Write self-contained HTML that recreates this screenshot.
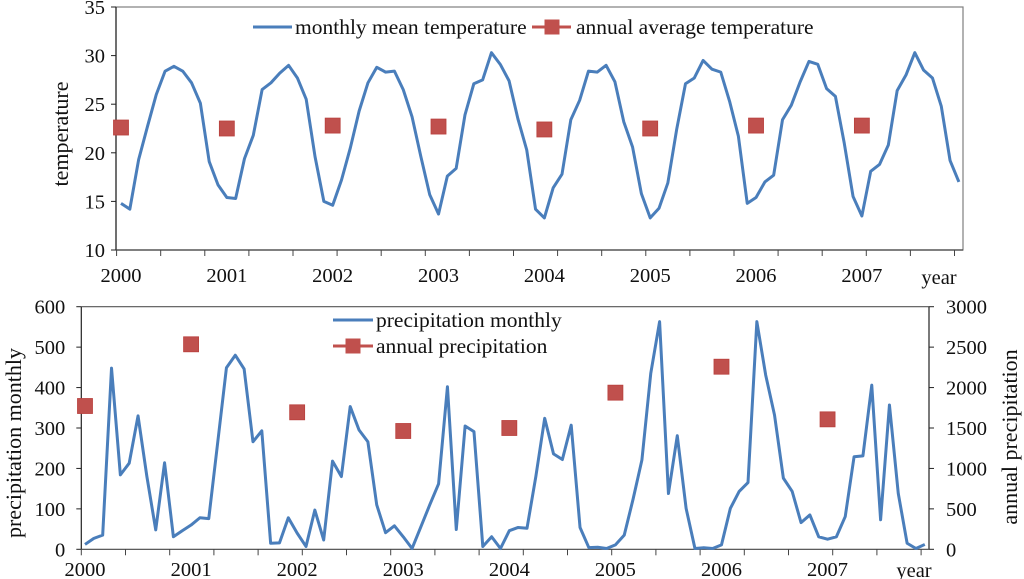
<!DOCTYPE html>
<html><head><meta charset="utf-8"><style>
html,body{margin:0;padding:0;background:#fff;}
svg{display:block;font-family:"Liberation Serif",serif;}
</style></head><body>
<svg id="c" width="1024" height="579" viewBox="0 0 1024 579"></svg>
<script>
const years=["2000","2001","2002","2003","2004","2005","2006","2007"];
const tempTicks=[10,15,20,25,30,35];
const tempMonthly=[14.8,14.2,19.3,22.7,26.0,28.4,28.9,28.4,27.2,25.1,19.1,16.7,
15.4,15.3,19.4,21.8,26.5,27.2,28.2,29.0,27.7,25.5,19.6,15.0,
14.6,17.2,20.5,24.3,27.2,28.8,28.3,28.4,26.5,23.7,19.6,15.7,
13.7,17.6,18.4,23.9,27.1,27.5,30.3,29.1,27.4,23.5,20.3,14.2,
13.3,16.4,17.8,23.4,25.4,28.4,28.3,29.0,27.3,23.2,20.6,15.8,
13.3,14.3,16.9,22.4,27.1,27.7,29.5,28.6,28.3,25.3,21.7,14.8,
15.4,17.0,17.7,23.4,24.9,27.3,29.4,29.1,26.6,25.8,21.0,15.5,
13.5,18.1,18.8,20.8,26.4,28.0,30.3,28.5,27.7,24.8,19.2,17.0];
const tempAnnual=[22.6,22.5,22.8,22.7,22.4,22.5,22.8,22.8];
const precTicksL=[0,100,200,300,400,500,600];
const precTicksR=[0,500,1000,1500,2000,2500,3000];
const precMonthly=[12,27,35,448,184,213,330,180,48,214,31,46,
60,78,76,262,449,480,446,266,293,15,16,78,
40,7,97,23,218,180,353,295,266,110,41,58,
31,2,56,110,162,402,49,305,291,7,31,2,
46,54,52,180,324,236,222,307,54,4,5,2,
11,35,124,221,435,563,138,281,101,2,4,2,
11,101,143,165,563,431,332,176,143,66,85,31,
25,31,81,229,231,406,73,357,138,15,2,12];
const precAnnual=[1772,2535,1694,1463,1500,1937,2258,1607];

const FT=20.5, FL=21.5, FA=22;
const NS="http://www.w3.org/2000/svg";
const svg=document.getElementById('c');
function mk(tag,attrs,parent,txt){const e=document.createElementNS(NS,tag);for(const k in attrs)e.setAttribute(k,attrs[k]);if(txt!==undefined)e.textContent=txt;(parent||svg).appendChild(e);return e;}

// ---------- top chart ----------
const T={L:116,R:963,T:7,B:250,x0:121,dx:8.82,ymin:10,ymax:35};
const tx=i=>T.x0+i*T.dx;
const ty=v=>T.B-(v-T.ymin)/(T.ymax-T.ymin)*(T.B-T.T);
const g1=mk('g',{},svg);


let r=mk('rect',{x:T.L,y:T.T,width:T.R-T.L,height:T.B-T.T,fill:'none',stroke:'#7f7f7f','stroke-width':1.2},g1);


mk('line',{x1:T.L,y1:T.T,x2:T.L,y2:T.B,stroke:'#222','stroke-width':1.2},g1);
mk('line',{x1:T.L,y1:T.B,x2:T.R,y2:T.B,stroke:'#444','stroke-width':1.2},g1);
tempTicks.forEach(v=>{
  mk('line',{x1:T.L-5,y1:ty(v),x2:T.L,y2:ty(v),stroke:'#222'},g1);
  const t=mk('text',{x:T.L-11,y:ty(v)+7,'text-anchor':'end','font-size':FT,fill:'#111'},g1,v);
  
  
});
for(let j=0;j*5*T.dx+T.x0-T.dx/2<=T.R+1;j++){const x=T.x0-T.dx/2+j*5*T.dx;mk('line',{x1:x,y1:T.B,x2:x,y2:T.B+6,stroke:'#444'},g1);}
years.forEach((y,k)=>{
  const t=mk('text',{x:tx(12*k),y:282,'text-anchor':'middle','font-size':FT,fill:'#111'},g1,y);
  
  
});
let yl=mk('text',{x:939,y:284,'text-anchor':'middle','font-size':FT,fill:'#111'},g1,'year');


let yt=mk('text',{transform:'translate(68,134) rotate(-90)','text-anchor':'middle','font-size':FA,fill:'#111'},g1,'temperature');


let tl=mk('polyline',{points:tempMonthly.map((v,i)=>tx(i)+','+ty(v)).join(' '),fill:'none',stroke:'#4a7ebb','stroke-width':3,'stroke-linejoin':'round'},g1);


tempAnnual.forEach((v,k)=>{
  const s=mk('rect',{x:tx(12*k)-7.5,y:ty(v)-7.5,width:15,height:15,fill:'#c0504d',stroke:'#b9403d','stroke-width':0.8},g1);
  
  
});
let lg1=mk('g',{},g1);


mk('line',{x1:253,y1:27,x2:292,y2:27,stroke:'#4a7ebb','stroke-width':3},lg1);
mk('text',{x:295,y:34,'font-size':FL,fill:'#111'},lg1,'monthly mean temperature');
mk('line',{x1:532,y1:27,x2:571,y2:27,stroke:'#c0504d','stroke-width':3},lg1);
mk('rect',{x:544.5,y:19.5,width:15,height:15,fill:'#c0504d'},lg1);
mk('text',{x:576,y:34,'font-size':FL,fill:'#111'},lg1,'annual average temperature');

// ---------- bottom chart ----------
const P={L:81.3,R:929,T:306.7,B:549.3,x0:85,dx:8.84};
const px=i=>P.x0+i*P.dx;
const pyL=v=>P.B-v/600*(P.B-P.T);
const pyR=v=>P.B-v/3000*(P.B-P.T);
const g2=mk('g',{},svg);


mk('line',{x1:P.L,y1:P.T,x2:P.R,y2:P.T,stroke:'#555','stroke-width':1.2},g2);
mk('line',{x1:P.L,y1:P.T,x2:P.L,y2:P.B,stroke:'#222','stroke-width':1.2},g2);
mk('line',{x1:P.R,y1:P.T,x2:P.R,y2:P.B,stroke:'#222','stroke-width':1.2},g2);
mk('line',{x1:P.L,y1:P.B,x2:P.R,y2:P.B,stroke:'#444','stroke-width':1.2},g2);
precTicksL.forEach(v=>{
  mk('line',{x1:P.L-5,y1:pyL(v),x2:P.L,y2:pyL(v),stroke:'#222'},g2);
  const t=mk('text',{x:P.L-16,y:pyL(v)+7,'text-anchor':'end','font-size':FT,fill:'#111'},g2,v);
  
  
});
precTicksR.forEach(v=>{
  mk('line',{x1:P.R,y1:pyR(v),x2:P.R+5,y2:pyR(v),stroke:'#222'},g2);
  const t=mk('text',{x:P.R+17,y:pyR(v)+7,'text-anchor':'start','font-size':FT,fill:'#111'},g2,v);
  
  
});
for(let j=0;P.L+j*5*P.dx<=P.R+1;j++){const x=P.L+j*5*P.dx;mk('line',{x1:x,y1:P.B,x2:x,y2:P.B+6,stroke:'#444'},g2);}
years.forEach((y,k)=>{
  const t=mk('text',{x:px(12*k),y:576,'text-anchor':'middle','font-size':FT,fill:'#111'},g2,y);
  
  
});
let yl2=mk('text',{x:914,y:577,'text-anchor':'middle','font-size':FT,fill:'#111'},g2,'year');


let at1=mk('text',{transform:'translate(21,443) rotate(-90)','text-anchor':'middle','font-size':FA,fill:'#111'},g2,'precipitation monthly');


let at2=mk('text',{transform:'translate(1017,437) rotate(-90)','text-anchor':'middle','font-size':FA,fill:'#111'},g2,'annual precipitation');


let pl=mk('polyline',{points:precMonthly.map((v,i)=>px(i)+','+pyL(v)).join(' '),fill:'none',stroke:'#4a7ebb','stroke-width':3,'stroke-linejoin':'round'},g2);


precAnnual.forEach((v,k)=>{
  const s=mk('rect',{x:px(12*k)-7.5,y:pyR(v)-7.5,width:15,height:15,fill:'#c0504d',stroke:'#b9403d','stroke-width':0.8},g2);
  
  
});
let lg2=mk('g',{},g2);


mk('line',{x1:333,y1:320,x2:373,y2:320,stroke:'#4a7ebb','stroke-width':3},lg2);
mk('text',{x:376,y:327,'font-size':FL,fill:'#111'},lg2,'precipitation monthly');
mk('line',{x1:333,y1:346,x2:373,y2:346,stroke:'#c0504d','stroke-width':3},lg2);
mk('rect',{x:345.5,y:338.5,width:15,height:15,fill:'#c0504d'},lg2);
mk('text',{x:376,y:353,'font-size':FL,fill:'#111'},lg2,'annual precipitation');
</script>
</body></html>
